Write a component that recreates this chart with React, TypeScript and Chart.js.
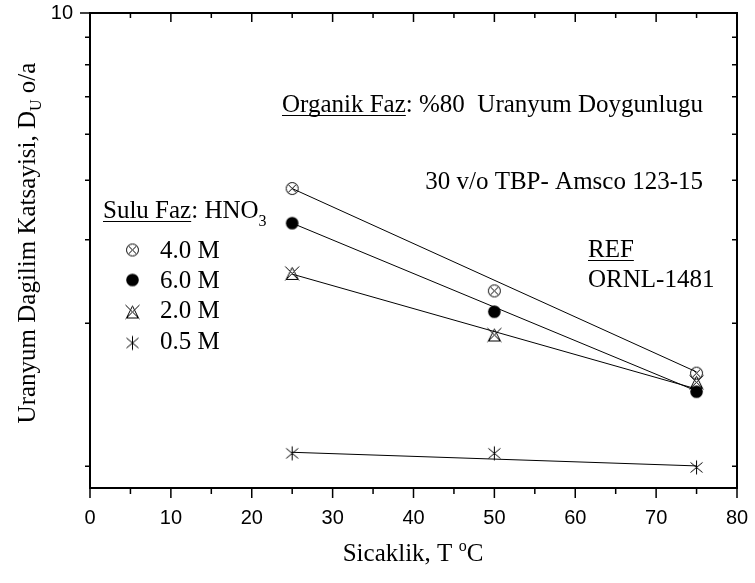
import React, { useEffect, useRef } from "react";
import { Chart, registerables } from "chart.js";

Chart.register(...registerables);

// ---- data ----
const temperatures = [25, 50, 75];
const series40 = [4.27, 2.6, 1.745];
const series60 = [3.61, 2.35, 1.595];
const series20 = [2.83, 2.1, 1.67];
const series05 = [1.183, 1.183, 1.105];

const fitTemperatures = [25, 75];
const fit40 = [4.27, 1.755];
const fit60 = [3.61, 1.6];
const fit20 = [2.82, 1.616];
const fit05 = [1.189, 1.113];

const seriesLabels = ["4.0 M", "6.0 M", "2.0 M", "0.5 M"];
const markerKinds = ["crossCircle", "disc", "triangleX", "asterisk"];

const xTicks = [0, 10, 20, 30, 40, 50, 60, 70, 80];
const xMinorTicks = [5, 15, 25, 35, 45, 55, 65, 75];
const yMajorTicks = [10];
const yMinorTicks = [1.111, 2.222, 3.333, 4.444, 5.556, 6.667, 7.778, 8.889];

const SERIF = '"Liberation Serif", "Times New Roman", serif';
const SANS = '"Liberation Sans", Arial, sans-serif';

function makeMarker(kind: string): HTMLCanvasElement {
  const s = 17;
  const c = document.createElement("canvas");
  c.width = s;
  c.height = s;
  const g = c.getContext("2d")!;
  const m = s / 2;
  g.strokeStyle = "#000";
  g.fillStyle = "#000";
  g.lineWidth = 1;
  if (kind === "crossCircle") {
    g.beginPath();
    g.arc(m, m, 6, 0, Math.PI * 2);
    g.stroke();
    const d = 4.2;
    g.beginPath();
    g.moveTo(m - d, m - d);
    g.lineTo(m + d, m + d);
    g.moveTo(m + d, m - d);
    g.lineTo(m - d, m + d);
    g.stroke();
  } else if (kind === "disc") {
    g.beginPath();
    g.arc(m, m, 6.3, 0, Math.PI * 2);
    g.fill();
  } else if (kind === "triangleX") {
    g.beginPath();
    g.moveTo(1.5, 1.5);
    g.lineTo(15.5, 15.5);
    g.moveTo(15.5, 1.5);
    g.lineTo(1.5, 15.5);
    g.moveTo(m, 2.5);
    g.lineTo(14.5, 14.5);
    g.lineTo(2.5, 14.5);
    g.closePath();
    g.stroke();
  } else {
    g.beginPath();
    g.moveTo(m, 1.5);
    g.lineTo(m, 15.5);
    g.moveTo(2.5, 3.5);
    g.lineTo(14.5, 13.5);
    g.moveTo(2.5, 13.5);
    g.lineTo(14.5, 3.5);
    g.stroke();
  }
  return c;
}

type Run = { text: string; size: number; dy?: number; underline?: boolean };

function runsWidth(ctx: CanvasRenderingContext2D, runs: Run[]) {
  let w = 0;
  for (const r of runs) {
    ctx.font = `${r.size}px ${SERIF}`;
    w += ctx.measureText(r.text).width;
  }
  return w;
}

function drawRuns(
  ctx: CanvasRenderingContext2D,
  x: number,
  y: number,
  runs: Run[],
  align: "left" | "center" | "right" = "left"
) {
  const w = runsWidth(ctx, runs);
  let cx = align === "left" ? x : align === "center" ? x - w / 2 : x - w;
  ctx.textAlign = "left";
  ctx.textBaseline = "alphabetic";
  for (const r of runs) {
    ctx.font = `${r.size}px ${SERIF}`;
    const rw = ctx.measureText(r.text).width;
    ctx.fillText(r.text, cx, y + (r.dy || 0));
    if (r.underline) {
      ctx.beginPath();
      ctx.lineWidth = 1;
      ctx.moveTo(cx, y + 3.5);
      ctx.lineTo(cx + rw, y + 3.5);
      ctx.stroke();
    }
    cx += rw;
  }
}

function zeroPadding(s: any) {
  s.paddingTop = 0;
  s.paddingBottom = 0;
  s.paddingLeft = 0;
  s.paddingRight = 0;
}

export default function App() {
  const canvasRef = useRef<HTMLCanvasElement | null>(null);

  useEffect(() => {
    document.body.style.margin = "0";
    const canvas = canvasRef.current!;
    const markers = markerKinds.map(makeMarker);
    const seriesValues = [series40, series60, series20, series05];
    const fitValues = [fit40, fit60, fit20, fit05];

    const markerSets = seriesValues.map((vals, i) => ({
      type: "line" as const,
      label: seriesLabels[i],
      data: temperatures.map((t, j) => ({ x: t, y: vals[j] })),
      showLine: false,
      pointStyle: markers[i],
      pointRadius: 7,
      borderColor: "#000",
      backgroundColor: "#000",
      order: 0,
    }));
    const fitSets = fitValues.map((vals, i) => ({
      type: "line" as const,
      label: seriesLabels[i] + " fit",
      data: fitTemperatures.map((t, j) => ({ x: t, y: vals[j] })),
      showLine: true,
      borderColor: "#000",
      borderWidth: 1,
      pointRadius: 0,
      fill: false,
      order: 1,
    }));

    const overlay = {
      id: "overlay",
      afterDraw(chart: any) {
        const ctx: CanvasRenderingContext2D = chart.ctx;
        const { left, right, top, bottom } = chart.chartArea;
        const xs = chart.scales.x;
        const ys = chart.scales.y;
        ctx.save();
        ctx.strokeStyle = "#000";
        ctx.fillStyle = "#000";

        // ticks
        ctx.lineWidth = 1.5;
        ctx.beginPath();
        for (const v of xTicks) {
          const p = xs.getPixelForValue(v);
          ctx.moveTo(p, bottom);
          ctx.lineTo(p, bottom + 10);
          ctx.moveTo(p, top);
          ctx.lineTo(p, top + 9);
        }
        for (const v of xMinorTicks) {
          const p = xs.getPixelForValue(v);
          ctx.moveTo(p, bottom);
          ctx.lineTo(p, bottom + 6);
          ctx.moveTo(p, top);
          ctx.lineTo(p, top + 5);
        }
        for (const v of yMajorTicks) {
          const p = ys.getPixelForValue(v);
          ctx.moveTo(left - 10, p);
          ctx.lineTo(left, p);
          ctx.moveTo(right, p);
          ctx.lineTo(right - 9, p);
        }
        for (const v of yMinorTicks) {
          const p = ys.getPixelForValue(v);
          ctx.moveTo(left - 5, p);
          ctx.lineTo(left, p);
          ctx.moveTo(right, p);
          ctx.lineTo(right - 5, p);
        }
        ctx.stroke();

        // frame
        ctx.lineWidth = 2;
        ctx.strokeRect(left, top, right - left, bottom - top);

        // annotations
        drawRuns(ctx, 282, 112, [
          { text: "Organik Faz", size: 25, underline: true },
          { text: ": %80  Uranyum Doygunlugu", size: 25 },
        ]);
        drawRuns(ctx, 703, 189, [{ text: "30 v/o TBP- Amsco 123-15", size: 25 }], "right");
        drawRuns(ctx, 588, 257, [{ text: "REF", size: 25, underline: true }]);
        drawRuns(ctx, 588, 287, [{ text: "ORNL-1481", size: 25 }]);

        // legend
        drawRuns(ctx, 103, 218, [
          { text: "Sulu Faz", size: 25, underline: true },
          { text: ": HNO", size: 25 },
          { text: "3", size: 16, dy: 8 },
        ]);
        const rowY = [258, 288, 318, 349];
        const markY = [250, 280, 312, 343];
        chart.data.datasets.forEach((ds: any, i: number) => {
          if (ds.order !== 0) return;
          const img = ds.pointStyle as HTMLCanvasElement;
          ctx.drawImage(img, 132.5 - img.width / 2, markY[i] - img.height / 2);
          drawRuns(ctx, 160, rowY[i], [{ text: ds.label, size: 25 }]);
        });

        // axis titles
        drawRuns(ctx, 413, 561, [
          { text: "Sicaklik, T ", size: 25 },
          { text: "o", size: 16, dy: -10 },
          { text: "C", size: 25 },
        ], "center");

        ctx.save();
        ctx.translate(34.5, 243);
        ctx.rotate(-Math.PI / 2);
        drawRuns(ctx, 0, 0, [
          { text: "Uranyum Dagilim Katsayisi, D", size: 25 },
          { text: "U", size: 16, dy: 6 },
          { text: " o/a", size: 25 },
        ], "center");
        ctx.restore();

        ctx.restore();
      },
    };

    const chart = new Chart(canvas, {
      type: "line",
      data: { datasets: [...markerSets, ...fitSets] as any },
      options: {
        animation: false,
        responsive: false,
        devicePixelRatio: 1,
        layout: { padding: { left: 0, right: 18, top: 13, bottom: 0 } },
        plugins: { legend: { display: false }, tooltip: { enabled: false } },
        scales: {
          x: {
            type: "linear",
            min: 0,
            max: 80,
            position: "bottom",
            afterBuildTicks: (s: any) => {
              s.ticks = xTicks.map((v) => ({ value: v }));
            },
            afterFit: (s: any) => {
              s.height = 95;
              zeroPadding(s);
            },
            grid: { display: false },
            border: { display: false },
            ticks: {
              font: { family: SANS, size: 20 },
              color: "#000",
              padding: 10,
              maxRotation: 0,
              autoSkip: false,
              callback: (v: any) => String(v),
            },
          },
          y: {
            type: "logarithmic",
            min: 1,
            max: 10,
            afterBuildTicks: (s: any) => {
              s.ticks = yMajorTicks.map((v) => ({ value: v }));
            },
            afterFit: (s: any) => {
              s.width = 90;
              zeroPadding(s);
            },
            grid: { display: false },
            border: { display: false },
            ticks: {
              font: { family: SANS, size: 20 },
              color: "#000",
              padding: 9,
              autoSkip: false,
              callback: (v: any) => String(v),
            },
          },
        },
      },
      plugins: [overlay],
    });
    return () => chart.destroy();
  }, []);

  return <canvas ref={canvasRef} width={755} height={583} style={{ display: "block" }} />;
}
